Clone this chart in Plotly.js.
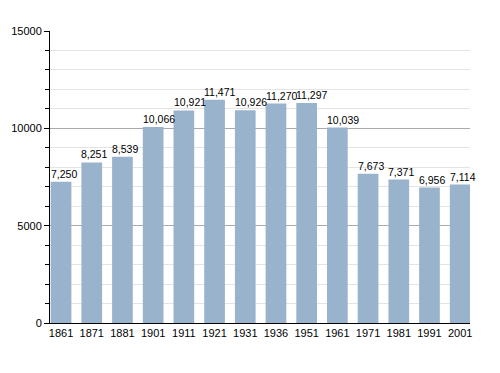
<!DOCTYPE html>
<html>
<head>
<meta charset="utf-8">
<script src="https://cdn.plot.ly/plotly-3.0.1.min.js"></script>
<style>html,body{margin:0;padding:0;background:#fff}#chart{width:500px;height:373px}#err{position:absolute;top:0;left:0;font-size:9px;color:red}</style>
</head>
<body>
<div id="chart"></div>
<div id="err"></div>
<script>
const years = ["1861","1871","1881","1901","1911","1921","1931","1936","1951","1961","1971","1981","1991","2001"];
const population = [7250, 8251, 8539, 10066, 10921, 11471, 10926, 11270, 11297, 10039, 7673, 7371, 6956, 7114];
const labels = population.map(v => v.toLocaleString("en-US"));

const FONT = "Liberation Sans, Arial, Helvetica, sans-serif";
const bargap = 0.326;
const xRange = [-0.36, 13.32];
const plotW = 500 - 50 - 30;
const barPx = plotW / (xRange[1] - xRange[0]) * (1 - bargap);

try {
const trace = {
  type: "bar",
  x: years,
  y: population,
  marker: {color: "#99b3cc"},
  hoverinfo: "x+y"
};

const annotations = years.map((yr, i) => ({
  x: i, y: population[i], xref: "x", yref: "y",
  text: labels[i], showarrow: false,
  xanchor: "left", yanchor: "bottom",
  xshift: -barPx / 2, yshift: 2,
  borderpad: 0, borderwidth: 0,
  font: {family: FONT, size: 10.5, color: "#000"}
}));

const layout = {
  width: 500, height: 373,
  margin: {l: 50, r: 30, t: 31, b: 50},
  paper_bgcolor: "#fff", plot_bgcolor: "#fff",
  bargap: bargap,
  showlegend: false,
  font: {family: FONT, size: 11, color: "#000"},
  annotations: annotations,
  xaxis: {
    type: "category",
    range: xRange,
    showline: true, linecolor: "#000", linewidth: 1,
    ticks: "", showgrid: false, zeroline: false,
    tickfont: {size: 11, color: "#000"}
  },
  yaxis: {
    range: [0, 15000],
    dtick: 5000, tick0: 0,
    tickformat: "d",
    showline: true, linecolor: "#000", linewidth: 1,
    ticks: "outside", ticklen: 5, tickcolor: "#000",
    showgrid: true, gridcolor: "#aaaaaa", gridwidth: 1,
    zeroline: false,
    tickfont: {size: 11, color: "#000"},
    minor: {dtick: 1000, ticks: "outside", ticklen: 4, tickcolor: "#000", showgrid: true, gridcolor: "#e4e4e4", gridwidth: 1}
  }
};

Plotly.newPlot("chart", [trace], layout, {displayModeBar: false, staticPlot: true}).catch(e => {document.getElementById("err").textContent = String(e);});
} catch (e) { document.getElementById("err").textContent = String(e); }
</script>
</body>
</html>
